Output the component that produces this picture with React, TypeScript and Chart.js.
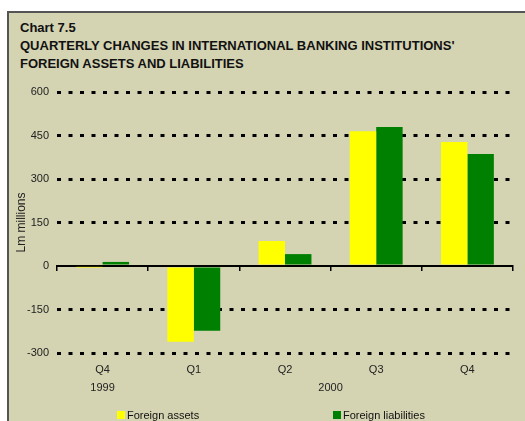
import React, { useEffect, useRef } from "react";
import { Chart, registerables } from "chart.js";

Chart.register(...registerables);

const QUARTERS = ["Q4", "Q1", "Q2", "Q3", "Q4"];
// year row: 11 evenly spaced slots across the plot (edges + half-categories)
const YEAR_SLOTS = ["", "1999", "", "", "", "", "2000", "", "", "", ""];
const FOREIGN_ASSETS = [-3, -261, 86, 465, 428];
const FOREIGN_LIABILITIES = [14, -223, 41, 479, 386];
const Y_MIN = -300;
const Y_MAX = 600;
const Y_STEP = 150;
const TITLE_LINES = [
  "Chart 7.5",
  "QUARTERLY CHANGES IN INTERNATIONAL BANKING INSTITUTIONS'",
  "FOREIGN ASSETS AND LIABILITIES",
];
const SERIES_NAMES = ["Foreign assets", "Foreign liabilities"];
const COLORS = ["#FFFF00", "#008000"];

const FONT = "'Liberation Sans', Arial, sans-serif";
const BG = "#D4D3B2";

export default function App() {
  const canvasRef = useRef<HTMLCanvasElement | null>(null);

  useEffect(() => {
    const canvas = canvasRef.current;
    if (!canvas) return;
    const chart = new Chart(canvas, {
      type: "bar",
      data: {
        labels: QUARTERS,
        datasets: [
          {
            label: SERIES_NAMES[0],
            data: FOREIGN_ASSETS,
            backgroundColor: COLORS[0],
            borderWidth: 0,
            barPercentage: 1,
            categoryPercentage: 0.58,
          },
          {
            label: SERIES_NAMES[1],
            data: FOREIGN_LIABILITIES,
            backgroundColor: COLORS[1],
            borderWidth: 0,
            barPercentage: 1,
            categoryPercentage: 0.58,
          },
        ],
      },
      options: {
        animation: false,
        responsive: false,
        maintainAspectRatio: false,
        layout: { padding: { left: 14, top: 92, right: 12, bottom: 26 } },
        plugins: {
          legend: { display: false },
          title: { display: false },
          tooltip: { enabled: false },
        },
        scales: {
          x: {
            type: "category",
            position: "bottom",
            weight: 0,
            grid: { display: false, drawTicks: false },
            border: { display: false },
            ticks: {
              color: "#222",
              font: { family: FONT, size: 11 },
              padding: 10,
              maxRotation: 0,
              autoSkip: false,
            },
            afterFit: (scale: any) => {
              scale.height = 22;
            },
          },
          x2: {
            type: "category",
            axis: "x",
            position: "bottom",
            weight: 1,
            labels: YEAR_SLOTS,
            offset: false,
            grid: { display: false, drawTicks: false, offset: false },
            border: { display: false },
            ticks: {
              color: "#222",
              font: { family: FONT, size: 11 },
              padding: 6,
              autoSkip: false,
              maxRotation: 0,
            },
            afterFit: (scale: any) => {
              scale.height = 20;
            },
          },
          xz: {
            type: "category",
            axis: "x",
            position: { y: 0 } as any,
            offset: true,
            grid: {
              offset: true,
              drawOnChartArea: false,
              drawTicks: true,
              tickLength: 4,
              color: "#000",
              lineWidth: 1.5,
            },
            border: { display: true, color: "#000", width: 2 },
            ticks: { display: false },
          },
          y: {
            type: "linear",
            min: Y_MIN,
            max: Y_MAX,
            grid: {
              drawTicks: false,
              lineWidth: 3,
              color: (ctx: any) =>
                ctx.tick && ctx.tick.value === 0 ? "rgba(0,0,0,0)" : "#000",
            },
            border: { display: false, dash: [4, 7.5] },
            ticks: {
              stepSize: Y_STEP,
              color: "#222",
              font: { family: FONT, size: 11 },
              padding: 8,
            },
            title: {
              display: true,
              text: "Lm millions",
              color: "#222",
              font: { family: FONT, size: 12 },
              padding: 0,
            },
            afterFit: (scale: any) => {
              scale.width = 43;
            },
          },
        },
      },
    });
    return () => chart.destroy();
  }, []);

  return (
    <div
      style={{
        position: "fixed",
        left: 0,
        top: 0,
        width: 525,
        height: 421,
        background: "#fff",
        overflow: "hidden",
        fontFamily: FONT,
      }}
    >
      <div
        style={{
          position: "absolute",
          left: 7,
          top: 11,
          width: 540,
          height: 440,
          background: BG,
          borderLeft: "2px solid #555",
          borderTop: "2px solid #555",
          boxSizing: "border-box",
        }}
      />
      <div
        style={{
          position: "absolute",
          left: 20,
          top: 19,
          fontSize: 13,
          fontWeight: "bold",
          lineHeight: "18px",
          color: "#111",
          whiteSpace: "nowrap",
        }}
      >
        {TITLE_LINES.map((t, i) => (
          <div key={i}>{t}</div>
        ))}
      </div>
      <canvas
        ref={canvasRef}
        width={525}
        height={421}
        style={{ position: "absolute", left: 0, top: 0, width: 525, height: 421 }}
      />
      {SERIES_NAMES.map((name, i) => (
        <div
          key={name}
          style={{
            position: "absolute",
            left: i === 0 ? 117 : 333,
            top: 408,
            height: 14,
            display: "flex",
            alignItems: "center",
            fontSize: 11,
            color: "#111",
            whiteSpace: "nowrap",
          }}
        >
          <span
            style={{
              display: "inline-block",
              width: 8,
              height: 8,
              background: COLORS[i],
              marginRight: 2,
            }}
          />
          {name}
        </div>
      ))}
    </div>
  );
}
